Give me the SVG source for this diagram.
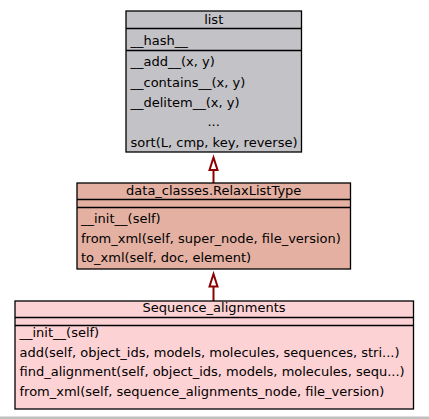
<svg xmlns="http://www.w3.org/2000/svg" width="429" height="419" viewBox="0 0 429 419">
<style>
.box{stroke:#000;stroke-width:1.3}
.div{stroke:#000;stroke-width:1.6;fill:none}
.t{font-family:"DejaVu Sans",sans-serif;font-size:13px;fill:#000}
.c{text-anchor:middle}
.edge{stroke:#8b0000;stroke-width:2;fill:none}
.head{stroke:#8b0000;stroke-width:2;fill:#fff}
</style>
<rect x="0" y="0" width="429" height="419" fill="#fff"/>
<rect x="0" y="416.5" width="429" height="2.5" fill="#c0c0c0"/>
<g id="connectors">
<line class="edge" x1="213.5" y1="170" x2="213.5" y2="183"/>
<polygon class="head" points="213.5,157.5 209.5,170 217.5,170"/>
<line class="edge" x1="213.5" y1="286.5" x2="213.5" y2="301"/>
<polygon class="head" points="213.5,274 209.5,286.5 217.5,286.5"/>
</g>
<g id="node-list">
<rect class="box" x="126" y="11" width="175.5" height="141" fill="#c3c2c6"/>
<line class="div" x1="126" y1="28.5" x2="301.5" y2="28.5"/>
<line class="div" x1="126" y1="50.5" x2="301.5" y2="50.5"/>
<text class="t c" x="213.7" y="24">list</text>
<text class="t" x="130.5" y="45">__hash__</text>
<text class="t" x="130.5" y="66">__add__(x, y)</text>
<text class="t" x="130.5" y="86.5">__contains__(x, y)</text>
<text class="t" x="130.5" y="106.5">__delitem__(x, y)</text>
<text class="t c" x="213.7" y="126">...</text>
<text class="t" x="130.5" y="146.5">sort(L, cmp, key, reverse)</text>
</g>
<g id="node-relax">
<rect class="box" x="77" y="183" width="273.5" height="86" fill="#e4b0a2"/>
<line class="div" x1="77" y1="199.5" x2="350.5" y2="199.5"/>
<line class="div" x1="77" y1="207.5" x2="350.5" y2="207.5"/>
<text class="t c" x="213.7" y="194.5">data_classes.RelaxListType</text>
<text class="t" x="81" y="222.5">__init__(self)</text>
<text class="t" x="81" y="242.5">from_xml(self, super_node, file_version)</text>
<text class="t" x="81" y="262">to_xml(self, doc, element)</text>
</g>
<g id="node-sequence">
<rect class="box" x="15" y="301" width="398.5" height="108" fill="#fdd2d4"/>
<line class="div" x1="15" y1="317.5" x2="413.5" y2="317.5"/>
<line class="div" x1="15" y1="325.5" x2="413.5" y2="325.5"/>
<text class="t c" x="214" y="312">Sequence_alignments</text>
<text class="t" x="19.5" y="337">__init__(self)</text>
<text class="t" x="19.5" y="356.5">add(self, object_ids, models, molecules, sequences, stri...)</text>
<text class="t" x="19.5" y="376">find_alignment(self, object_ids, models, molecules, sequ...)</text>
<text class="t" x="19.5" y="395.5">from_xml(self, sequence_alignments_node, file_version)</text>
</g>
</svg>
